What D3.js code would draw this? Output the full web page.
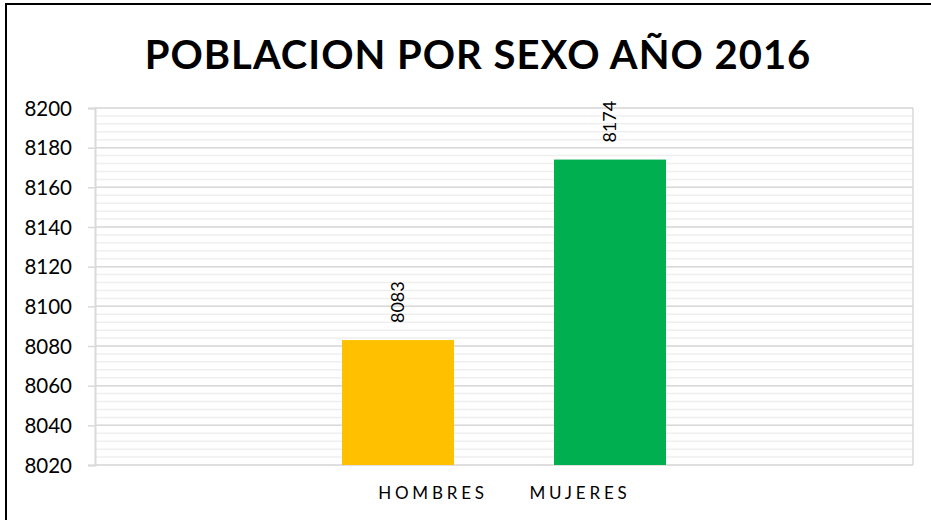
<!DOCTYPE html>
<html lang="es">
<head>
    <meta charset="UTF-8">
    <title>Poblacion por sexo 2016</title>
    <script src="https://d3js.org/d3.v7.min.js"></script>
    <style>
        body { margin: 0; background: #fff; }
        svg { display: block; }
        .tick-y text { font-family: Lato, "Open Sans", sans-serif; font-size: 20.5px; fill: #000; }
        .cat-label { font-family: Lato, "Open Sans", sans-serif; font-size: 17px; letter-spacing: 3.8px; fill: #000; }
        .value-label { font-family: Lato, "Open Sans", sans-serif; font-size: 18px; fill: #000; }
        .title { font-family: Lato, "Open Sans", sans-serif; font-weight: bold; font-size: 40px; letter-spacing: 1px; fill: #000; }
    </style>
</head>
<body>
<div id="chart"></div>
<script>
    // data
    const categories = ["HOMBRES", "MUJERES"];
    const values = [8083, 8174];
    const barColors = ["#FFC000", "#00B050"];
    const yTicks = [8020, 8040, 8060, 8080, 8100, 8120, 8140, 8160, 8180, 8200];
    const title = "POBLACION POR SEXO AÑO 2016";

    const W = 931, H = 520;
    const margin = { top: 108, right: 18, bottom: 55, left: 95 };
    const width = W - margin.left - margin.right,
        height = H - margin.top - margin.bottom;

    const svg = d3.select("#chart").append("svg")
        .attr("width", W)
        .attr("height", H);

    // outer frame
    svg.append("rect")
        .attr("x", 6).attr("y", 4)
        .attr("width", 950).attr("height", 540)
        .attr("fill", "none")
        .attr("stroke", "#000")
        .attr("stroke-width", 2);

    svg.append("text")
        .attr("class", "title")
        .attr("x", 478)
        .attr("y", 69)
        .attr("text-anchor", "middle")
        .text(title);

    const g = svg.append("g")
        .attr("transform", `translate(${margin.left},${margin.top})`);

    const y = d3.scaleLinear()
        .domain([8020, 8200])
        .range([height, 0]);

    const x = d3.scaleBand()
        .domain(categories)
        .range([0, width])
        .paddingInner(0.4717)
        .paddingOuter(1.165);

    // minor gridlines every 4
    g.append("g")
        .selectAll("line")
        .data(d3.range(8020, 8201, 4))
        .enter().append("line")
        .attr("x1", 0).attr("x2", width)
        .attr("y1", d => y(d)).attr("y2", d => y(d))
        .attr("stroke", "#efefef")
        .attr("stroke-width", 1.5);

    // major gridlines
    g.append("g")
        .selectAll("line")
        .data(yTicks)
        .enter().append("line")
        .attr("x1", 0).attr("x2", width)
        .attr("y1", d => y(d)).attr("y2", d => y(d))
        .attr("stroke", "#d9d9d9")
        .attr("stroke-width", 1.5);

    // right border of plot
    g.append("line")
        .attr("x1", width).attr("x2", width)
        .attr("y1", 0).attr("y2", height)
        .attr("stroke", "#d9d9d9")
        .attr("stroke-width", 1.5);

    // y axis
    const yAxis = g.append("g")
        .attr("class", "tick-y")
        .call(d3.axisLeft(y).tickValues(yTicks).tickFormat(d3.format("d")).tickSize(7).tickPadding(16));
    yAxis.select(".domain").attr("stroke", "#d9d9d9").attr("stroke-width", 2);
    yAxis.selectAll(".tick line").attr("stroke", "#d9d9d9").attr("stroke-width", 1.5);
    yAxis.selectAll("text").attr("dy", "0.35em");

    // bars
    g.selectAll(".bar")
        .data(values)
        .enter().append("rect")
        .attr("class", "bar")
        .attr("x", (d, i) => x(categories[i]))
        .attr("y", d => y(d))
        .attr("width", x.bandwidth())
        .attr("height", d => height - y(d))
        .attr("fill", (d, i) => barColors[i]);

    // value labels, rotated
    g.selectAll(".value-label")
        .data(values)
        .enter().append("text")
        .attr("class", "value-label")
        .attr("transform", (d, i) =>
            `translate(${x(categories[i]) + x.bandwidth() / 2 + 6},${y(d) - 17}) rotate(-90)`)
        .attr("text-anchor", "start")
        .text(d => d);

    // category labels (offset toward centre like the original)
    const labelShift = [33, -32];
    g.selectAll(".cat-label")
        .data(categories)
        .enter().append("text")
        .attr("class", "cat-label")
        .attr("x", (d, i) => x(d) + x.bandwidth() / 2 + labelShift[i] + 2)
        .attr("y", height + 34)
        .attr("text-anchor", "middle")
        .text(d => d);
</script>
</body>
</html>
